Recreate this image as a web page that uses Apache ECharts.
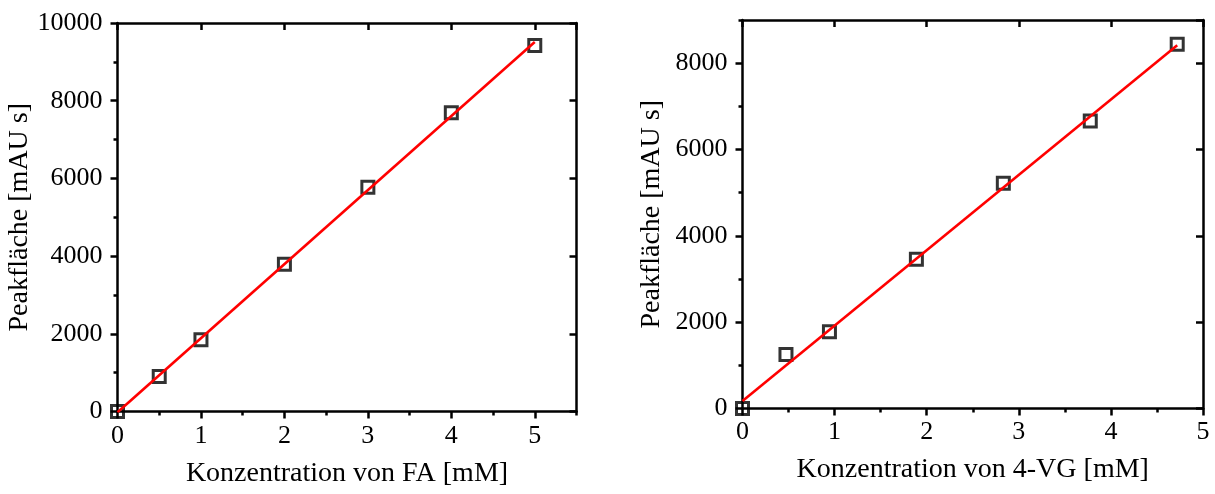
<!DOCTYPE html>
<html>
<head>
<meta charset="utf-8">
<script src="https://cdn.jsdelivr.net/npm/echarts@6/dist/echarts.min.js"></script>
<style>
  html, body { margin: 0; padding: 0; background: #fff; }
  #chart { width: 1215px; height: 494px; }
</style>
</head>
<body>
<div id="chart"></div>
<script>
// Ferulasäure (FA) calibration
const faConc = [0, 0.5, 1, 2, 3, 4, 5];
const faArea = [0, 900, 1845, 3790, 5770, 7690, 9420];
const faFitX = [0, 5];
const faFitY = [-20, 9510];

// 4-Vinylguaiacol (4-VG) calibration
const vgConc = [0, 0.472, 0.944, 1.888, 2.832, 3.776, 4.72];
const vgArea = [0, 1250, 1780, 3460, 5220, 6660, 8440];
const vgFitX = [0, 4.72];
const vgFitY = [175, 8415];

// axis ranges: [min, max, major step, minor step]
const faXRange = [0, 5.5, 1, 0.5];
const faYRange = [0, 10000, 2000, 1000];
const vgXRange = [0, 5, 1, 0.5];
const vgYRange = [0, 9000, 2000, 1000];

const xNames = ['Konzentration von FA [mM]', 'Konzentration von 4-VG [mM]'];
const yNames = ['Peakfläche [mAU s]', 'Peakfläche [mAU s]'];

const FONT = 'Liberation Serif';
const INK = '#000';
const FRAME_W = 2.5;

const pairs = (xs, ys) => xs.map((x, i) => [x, ys[i]]);

// One side of the frame: a major axis (with optional labels/name) plus a minor-tick axis
function sideAxes(grid, range, position, opts) {
  const [min, max, major, minor] = range;
  const inside = position === 'top' || position === 'right';
  const base = {
    type: 'value', gridIndex: grid, position: position, min: min, max: max,
    splitLine: { show: false },
    axisLine: { show: true, onZero: false, lineStyle: { color: INK, width: FRAME_W } }
  };
  const majorAxis = Object.assign({}, base, {
    interval: major,
    axisTick: { show: true, inside: inside, length: 7, lineStyle: { color: INK, width: FRAME_W } },
    axisLabel: opts.labels ? {
      show: true, color: INK, fontFamily: FONT, fontSize: 26, margin: opts.margin,
      showMaxLabel: opts.showMax,
      formatter: v => (Math.abs(v / major - Math.round(v / major)) < 1e-9 ? String(v) : '')
    } : { show: false }
  });
  if (opts.name) {
    Object.assign(majorAxis, {
      name: opts.name, nameLocation: 'middle', nameGap: opts.nameGap,
      nameTextStyle: { color: INK, fontFamily: FONT, fontSize: 28 }
    });
  }
  const minorAxis = Object.assign({}, base, {
    interval: minor,
    axisLine: { show: false },
    axisTick: { show: true, inside: inside, length: 4, lineStyle: { color: INK, width: FRAME_W } },
    axisLabel: { show: false }
  });
  return [majorAxis, minorAxis];
}

const xAxis = [
  ...sideAxes(0, faXRange, 'bottom', { labels: true, margin: 12, showMax: false, name: xNames[0], nameGap: 48 }),
  ...sideAxes(0, faXRange, 'top', {}),
  ...sideAxes(1, vgXRange, 'bottom', { labels: true, margin: 11, showMax: true, name: xNames[1], nameGap: 47 }),
  ...sideAxes(1, vgXRange, 'top', {})
];
const yAxis = [
  ...sideAxes(0, faYRange, 'left', { labels: true, margin: 15, showMax: true, name: yNames[0], nameGap: 82 }),
  ...sideAxes(0, faYRange, 'right', {}),
  ...sideAxes(1, vgYRange, 'left', { labels: true, margin: 15, showMax: false, name: yNames[1], nameGap: 77 }),
  ...sideAxes(1, vgYRange, 'right', {})
];

function scatter(xi, yi, data) {
  return {
    type: 'scatter', xAxisIndex: xi, yAxisIndex: yi, data: data,
    symbol: 'rect', symbolSize: 12, z: 2, silent: true,
    itemStyle: { color: 'rgba(0,0,0,0)', borderColor: INK, borderWidth: 3 }
  };
}
function fit(xi, yi, data) {
  return {
    type: 'line', xAxisIndex: xi, yAxisIndex: yi, data: data,
    showSymbol: false, z: 3, silent: true, clip: true,
    lineStyle: { color: '#ff0000', width: 2.6 }
  };
}

const chart = echarts.init(document.getElementById('chart'), null, { renderer: 'canvas' });
chart.setOption({
  animation: false,
  backgroundColor: '#fff',
  grid: [
    { left: 117.5, top: 23, width: 459, height: 388.5 },
    { left: 742.5, top: 20, width: 460.5, height: 388.5 }
  ],
  xAxis: xAxis,
  yAxis: yAxis,
  series: [
    scatter(0, 0, pairs(faConc, faArea)),
    fit(0, 0, pairs(faFitX, faFitY)),
    scatter(4, 4, pairs(vgConc, vgArea)),
    fit(4, 4, pairs(vgFitX, vgFitY))
  ]
});
</script>
</body>
</html>
